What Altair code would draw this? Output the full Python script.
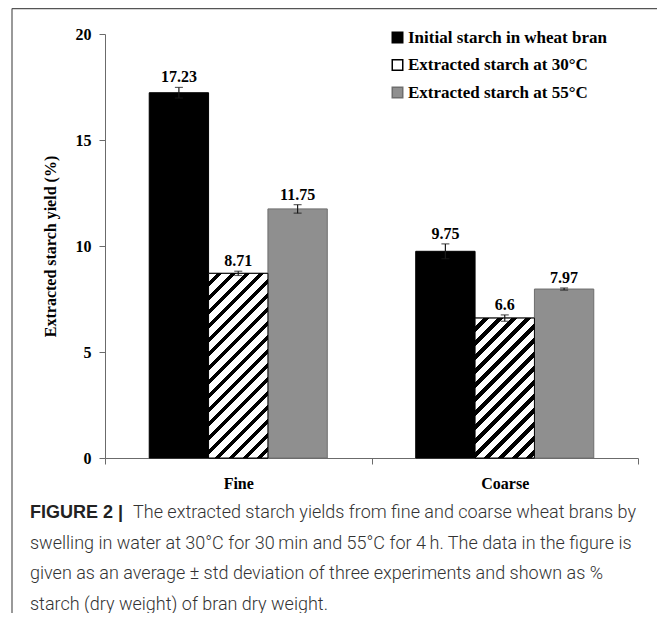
import altair as alt
import pandas as pd

categories = ["Fine", "Coarse"]
series = ["Initial starch in wheat bran", "Extracted starch at 30°C", "Extracted starch at 55°C"]
fine_values = [17.23, 8.71, 11.75]
coarse_values = [9.75, 6.6, 7.97]
fine_err = [0.25, 0.1, 0.2]
coarse_err = [0.35, 0.15, 0.05]
y_ticks = [0, 5, 10, 15, 20]
y_title = "Extracted starch yield (%)"
caption_bold = "FIGURE 2 |"
caption_lines = [
    "The extracted starch yields from fine and coarse wheat brans by",
    "swelling in water at 30°C for 30\u2009min and 55°C for 4\u2009h. The data in the figure is",
    "given as an average \u00b1 std deviation of three experiments and shown as %",
    "starch (dry weight) of bran dry weight.",
]

W, H = 533, 424
Y_MAX = 20
SERIF = "Liberation Serif"
SANS = "Roboto"

rows = []
for cat, vals, errs in [("Fine", fine_values, fine_err), ("Coarse", coarse_values, coarse_err)]:
    for s, v, e in zip(series, vals, errs):
        rows.append({"category": cat, "series": s, "value": v, "lo": v - e, "hi": v + e})
df = pd.DataFrame(rows)

x_enc = alt.X("category:N", sort=categories,
              scale=alt.Scale(domain=categories, paddingInner=0, paddingOuter=0),
              axis=alt.Axis(title=None, labelAngle=0, tickBand="extent", tickSize=6,
                            labelPadding=11, labelFont=SERIF, labelFontWeight="bold",
                            labelFontSize=16, labelColor="black", domainColor="#6b6b6b",
                            tickColor="#6b6b6b", grid=False))
xo_enc = alt.XOffset("series:N", sort=series,
                     scale=alt.Scale(domain=series, paddingInner=0, paddingOuter=0.745))
y_scale = alt.Scale(domain=[0, Y_MAX], nice=False, zero=True)
y_enc = alt.Y("value:Q", scale=y_scale,
              axis=alt.Axis(values=y_ticks, title=y_title, grid=False, tickSize=6,
                            labelPadding=8, labelFont=SERIF, labelFontWeight="bold",
                            labelFontSize=16, labelColor="black", titleFont=SERIF,
                            titleFontWeight="bold", titleFontSize=16, titleColor="black",
                            titlePadding=17, domainColor="#6b6b6b", tickColor="#6b6b6b"))

legend_kw = dict(title=None, orient="none", legendX=284, legendY=-5, symbolType="square",
                 symbolSize=110, symbolStrokeWidth=1.5, labelFont=SERIF,
                 labelFontWeight="bold", labelFontSize=17, labelColor="black",
                 labelLimit=0, rowPadding=9.5, labelOffset=2, padding=0, symbolOpacity=1)

base = alt.Chart(df)

bars = base.mark_bar(strokeWidth=1, opacity=1).encode(
    x=x_enc, xOffset=xo_enc, y=y_enc,
    fill=alt.Fill("series:N", sort=series,
                  scale=alt.Scale(domain=series, range=["#000000", "#ffffff", "#8f8f8f"]),
                  legend=alt.Legend(**legend_kw)),
    stroke=alt.Stroke("series:N", sort=series,
                      scale=alt.Scale(domain=series, range=["#000000", "#000000", "#6e6e6e"]),
                      legend=alt.Legend(**legend_kw)),
)


def hatch_gradient(bar_w, bar_h, period=9.9, black_frac=0.42):
    k = (bar_w + bar_h) / (bar_w ** 2 + bar_h ** 2)
    ax, ay = bar_w * k, bar_h * k
    length = (bar_w + bar_h) / 2 ** 0.5
    dt = period / length
    stops = []
    t = 0.0
    while t < 1.0:
        w_end = min(t + dt * (1 - black_frac), 1.0)
        b_end = min(t + dt, 1.0)
        stops += [alt.GradientStop(offset=t, color="#ffffff"),
                  alt.GradientStop(offset=w_end, color="#ffffff"),
                  alt.GradientStop(offset=w_end, color="#000000"),
                  alt.GradientStop(offset=b_end, color="#000000")]
        t = b_end
    return alt.Gradient(gradient="linear", stops=stops, x1=0, y1=0, x2=ax, y2=ay)


band_w = W / len(categories)
bar_w = band_w / (len(series) + 2 * 0.745)
hatch_layers = []
for cat, vals in [("Fine", fine_values), ("Coarse", coarse_values)]:
    bar_h = vals[1] / Y_MAX * H
    hatch_layers.append(
        base.transform_filter(
            (alt.datum.category == cat) & (alt.datum.series == series[1])
        ).mark_bar(fill=hatch_gradient(bar_w, bar_h), stroke="#000000", strokeWidth=1,
                   opacity=1).encode(x=x_enc, xOffset=xo_enc, y=y_enc)
    )

err_rule = base.mark_rule(color="#1a1a1a", strokeWidth=1.2).encode(
    x=x_enc, xOffset=xo_enc, y="lo:Q", y2="hi:Q")
cap_hi = base.mark_tick(color="#1a1a1a", thickness=1.2, size=8).encode(
    x=x_enc, xOffset=xo_enc, y=alt.Y("hi:Q", scale=y_scale))
cap_lo = base.mark_tick(color="#1a1a1a", thickness=1.2, size=8).encode(
    x=x_enc, xOffset=xo_enc, y=alt.Y("lo:Q", scale=y_scale))
labels = base.mark_text(font=SERIF, fontWeight="bold", fontSize=16, baseline="bottom",
                        dy=-2, color="black").encode(
    x=x_enc, xOffset=xo_enc, y=alt.Y("hi:Q", scale=y_scale),
    text=alt.Text("value:Q", format=".2~f"))

one = alt.Chart(pd.DataFrame({"a": [0]}))
frame_left = one.mark_rule(color="#555555", strokeWidth=1.2).encode(
    x=alt.value(-93), y=alt.value(-25.4), y2=alt.value(H + 200))
frame_top = one.mark_rule(color="#555555", strokeWidth=1.2).encode(
    x=alt.value(-93), x2=alt.value(W + 40), y=alt.value(-25.4))

cap_y0, cap_dy = 484, 30.5
caption = [one.mark_text(align="left", baseline="alphabetic", font="Liberation Sans",
                         fontWeight="bold", fontSize=18, color="#222222").encode(
    x=alt.value(-75), y=alt.value(cap_y0), text=alt.value(caption_bold))]
for i, line in enumerate(caption_lines):
    caption.append(one.mark_text(align="left", baseline="alphabetic", font=SANS,
                                 fontWeight=300, fontSize=18, color="#333333").encode(
        x=alt.value(28 if i == 0 else -75), y=alt.value(cap_y0 + i * cap_dy),
        text=alt.value(line)))

chart = alt.layer(
    bars, *hatch_layers, err_rule, cap_hi, cap_lo, labels, frame_left, frame_top, *caption
).properties(
    width=W, height=H,
    autosize=alt.AutoSizeParams(type="none"),
    padding={"left": 97, "top": 26, "right": 19, "bottom": 155},
    background="white",
).configure_view(stroke=None)

chart.save("out.html", embed_options={"renderer": "svg", "actions": False})
